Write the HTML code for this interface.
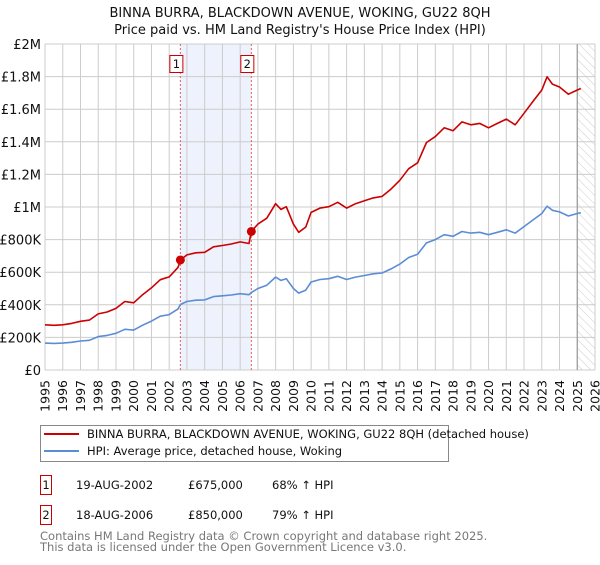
<!DOCTYPE html>
<html><head><meta charset="utf-8"><style>
body{margin:0;background:#fff;font-family:"Liberation Sans","DejaVu Sans",sans-serif;}
svg text{font-family:"DejaVu Sans","Liberation Sans",sans-serif;}
</style></head><body>
<svg id="c" width="600" height="560" viewBox="0 0 600 560">
<defs><pattern id="hatch" width="6" height="6" patternUnits="userSpaceOnUse" patternTransform="rotate(-45)"><line x1="0" y1="0" x2="0" y2="6" stroke="#ccc" stroke-width="1"/></pattern></defs>
<text x="300" y="17" text-anchor="middle" font-size="13" fill="#111">BINNA BURRA, BLACKDOWN AVENUE, WOKING, GU22 8QH</text>
<text x="300" y="34" text-anchor="middle" font-size="13" fill="#111">Price paid vs. HM Land Registry's House Price Index (HPI)</text>
<g id="grid"></g><g id="marks"></g>
<g>
<rect x="40.5" y="425.5" width="408" height="36" fill="#fff" stroke="#888"/>
<line x1="44" y1="434" x2="79" y2="434" stroke="#cc0000" stroke-width="2"/>
<text x="87" y="438" font-size="11.5" fill="#111">BINNA BURRA, BLACKDOWN AVENUE, WOKING, GU22 8QH (detached house)</text>
<line x1="44" y1="451" x2="79" y2="451" stroke="#5b8dd6" stroke-width="2"/>
<text x="87" y="455" font-size="11.5" fill="#111">HPI: Average price, detached house, Woking</text>
</g>
<g font-size="11.5" fill="#111">
<rect x="40.5" y="475.5" width="11" height="19" fill="#fff" stroke="#cc0000"/><text x="46" y="489" text-anchor="middle">1</text>
<text x="76" y="489">19-AUG-2002</text><text x="188" y="489">£675,000</text><text x="272" y="489">68% ↑ HPI</text>
<rect x="40.5" y="505.5" width="11" height="19" fill="#fff" stroke="#cc0000"/><text x="46" y="519" text-anchor="middle">2</text>
<text x="76" y="519">18-AUG-2006</text><text x="188" y="519">£850,000</text><text x="272" y="519">79% ↑ HPI</text>
</g>
<text x="40" y="540" font-size="11.5" fill="#777">Contains HM Land Registry data © Crown copyright and database right 2025.</text>
<text x="40" y="551" font-size="11.5" fill="#777">This data is licensed under the Open Government Licence v3.0.</text>
</svg>
<script>
const hpiYears=[1995.0,1995.5,1996.0,1996.5,1997.0,1997.5,1998.0,1998.5,1999.0,1999.5,2000.0,2000.5,2001.0,2001.5,2002.0,2002.5,2002.63,2003.0,2003.5,2004.0,2004.5,2005.0,2005.5,2006.0,2006.5,2006.63,2007.0,2007.5,2008.0,2008.3,2008.6,2009.0,2009.3,2009.7,2010.0,2010.5,2011.0,2011.5,2012.0,2012.5,2013.0,2013.5,2014.0,2014.5,2015.0,2015.5,2016.0,2016.5,2017.0,2017.5,2018.0,2018.5,2019.0,2019.5,2020.0,2020.5,2021.0,2021.5,2022.0,2022.5,2023.0,2023.3,2023.6,2024.0,2024.5,2025.0,2025.2];
const hpiValues=[165,163,165,170,178,182,205,212,225,250,245,275,300,330,340,375,402,420,428,430,450,455,460,468,462,475,500,520,570,550,560,500,472,490,540,555,560,575,555,570,580,590,595,620,650,690,710,780,800,830,820,850,840,845,830,845,860,840,880,920,960,1005,980,970,945,960,965];
const propValues=[277,274,277,286,299,306,344,356,378,420,412,462,504,554,571,630,675,706,719,722,756,764,773,786,776,850,895,931,1020,985,1002,895,845,877,967,993,1002,1029,993,1020,1038,1056,1065,1110,1164,1235,1271,1396,1432,1486,1468,1522,1504,1513,1486,1513,1539,1504,1575,1647,1718,1799,1754,1736,1692,1718,1727];
const saleYears=[2002.63,2006.63];
const saleValues=[675,850];
const saleLabels=["1","2"];
const yTicks=[0,200,400,600,800,1000,1200,1400,1600,1800,2000];
const yTickLabels=["£0","£200K","£400K","£600K","£800K","£1M","£1.2M","£1.4M","£1.6M","£1.8M","£2M"];
const xTicks=[1995,1996,1997,1998,1999,2000,2001,2002,2003,2004,2005,2006,2007,2008,2009,2010,2011,2012,2013,2014,2015,2016,2017,2018,2019,2020,2021,2022,2023,2024,2025,2026];
const dataEnd=2025.0;

const X0=45,X1=595,Y0=370,Y1=44;
const x=v=>X0+(v-1995)/(2026-1995)*(X1-X0);
const y=v=>Y0-v/2000*(Y0-Y1);
const NS="http://www.w3.org/2000/svg";
function mk(tag,attrs,parent){const e=document.createElementNS(NS,tag);for(const k in attrs)e.setAttribute(k,attrs[k]);parent.appendChild(e);return e;}
const grid=document.getElementById('grid'),marks=document.getElementById('marks');
const band=mk('rect',{x:x(saleYears[0]),y:Y1,width:x(saleYears[1])-x(saleYears[0]),height:Y0-Y1,fill:'#edf2fc'},grid);


const hat=mk('rect',{x:x(dataEnd),y:Y1,width:X1-x(dataEnd),height:Y0-Y1,fill:'url(#hatch)'},grid);


yTicks.forEach((t,i)=>{
  mk('line',{x1:X0,x2:X1,y1:y(t),y2:y(t),stroke:'#ccc','stroke-width':1},grid);
  const tx=mk('text',{x:X0-4,y:y(t)+5,'text-anchor':'end','font-size':13,fill:'#111'},grid);
  tx.textContent=yTickLabels[i];
  
  
});
xTicks.forEach(t=>{
  mk('line',{x1:x(t),x2:x(t),y1:Y1,y2:Y0,stroke:'#ccc','stroke-width':1},grid);
  const tx=mk('text',{x:0,y:0,'text-anchor':'end','font-size':12.5,fill:'#111',transform:'translate('+(x(t)+4.5)+',380) rotate(-90)'},grid);
  tx.textContent=t;
  
  
});
mk('line',{x1:x(dataEnd),x2:x(dataEnd),y1:Y1,y2:Y0,stroke:'#999','stroke-width':1.2},grid);
saleYears.forEach((s,i)=>{
  const l=mk('line',{x1:x(s),x2:x(s),y1:Y1,y2:Y0,stroke:'#e06060','stroke-width':1,'stroke-dasharray':'2,2'},grid);
  
  
  const g=mk('g',{},marks);
  
  
  mk('rect',{x:x(s)-10.5,y:55.5,width:13,height:17,fill:'#fff',stroke:'#cc0000'},g);
  const t=mk('text',{x:x(s)-4,y:68,'text-anchor':'middle','font-size':11.5,fill:'#111'},g);
  t.textContent=saleLabels[i];
});
function line(vals,color,name){
  const d=vals.map((v,i)=>(i?'L':'M')+x(hpiYears[i]).toFixed(1)+','+y(v).toFixed(1)).join('');
  const p=mk('path',{d:d,fill:'none',stroke:color,'stroke-width':1.6,'stroke-linejoin':'round'},marks);
  
  
}
line(hpiValues,'#5b8dd6','hpi-line');
line(propValues,'#cc0000','property-line');
saleYears.forEach((s,i)=>{
  const c=mk('circle',{cx:x(s),cy:y(saleValues[i]),r:4.5,fill:'#cc0000'},marks);
  
  
});
</script>
</body></html>
